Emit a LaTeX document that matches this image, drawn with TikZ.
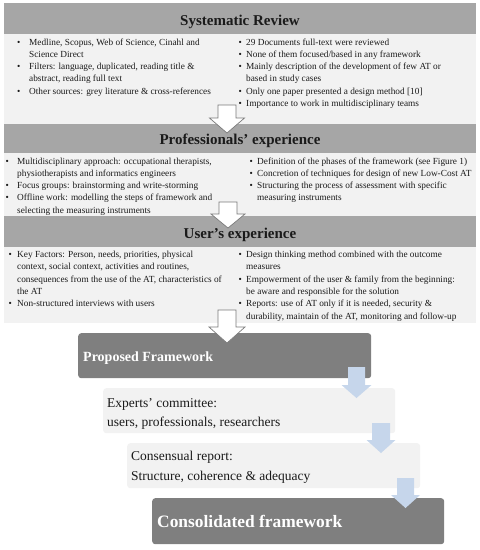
\documentclass[tikz,border=0pt]{standalone}
\usepackage{fontspec}
\setmainfont{Liberation Serif}
\definecolor{hdrgray}{HTML}{A6A6A6}
\definecolor{panegray}{HTML}{F2F2F2}
\definecolor{darkgray}{HTML}{7F7F7F}
\definecolor{flowblue}{HTML}{C6D6EB}
\definecolor{outlinegray}{HTML}{7A7A7A}
\definecolor{txt}{HTML}{1A1A1A}
\newcommand\bigdownarrow[7]{%
  \path[#7] (#1-#5,#2) -- (#1+#5,#2) -- (#1+#5,#3) -- (#1+#6,#3) -- (#1,#4)
    -- (#1-#6,#3) -- (#1-#5,#3) -- cycle;}
\begin{document}
\begin{tikzpicture}[x=1pt,y=-1pt,
  hdrbox/.style={fill=hdrgray, draw=none, inner sep=0, anchor=north west},
  panebox/.style={fill=panegray, draw=none, inner sep=0, anchor=north west},
  hdrtext/.style={font=\fontsize{15}{17}\selectfont\bfseries, text=txt, inner sep=0, anchor=base},
  bodytext/.style={font=\fontsize{9.3}{12.3}\selectfont, text=txt, inner sep=0, anchor=base west},
  darkbox/.style={fill=darkgray, draw=none, rounded corners=3pt, inner sep=0, anchor=north west},
  lightbox/.style={fill=panegray, draw=none, rounded corners=3pt, inner sep=0, anchor=north west},
  whitebold/.style={text=white, inner sep=0, anchor=base west},
  plaintext/.style={font=\fontsize{13.5}{16}\selectfont, text=txt, inner sep=0, anchor=base west},
  whitearrow/.style={fill=white, draw=outlinegray, line width=0.7pt, line join=miter},
  bluearrow/.style={fill=flowblue, draw=none}
]
\useasboundingbox (0,0) rectangle (480,550);

% ---------- Systematic Review ----------
\node[hdrbox, minimum width=472, minimum height=31] (syshdr) at (4,3) {};
\node[panebox, minimum width=472, minimum height=90] (sysbody) at (4,34) {};
\node[hdrtext] (systitle) at (240,25) {Systematic Review};
\node[bodytext] (sysL) at (17,45) {\begin{tabular}[t]{@{}p{12pt}@{}l@{}}
\textbullet & Medline, Scopus, Web of Science, Cinahl and\\
 & Science Direct\\
\textbullet & Filters: language, duplicated, reading title \&\\
 & abstract, reading full text\\
\textbullet & Other sources: grey literature \& cross-references
\end{tabular}};
\node[bodytext] (sysR) at (238.5,45) {\begin{tabular}[t]{@{}p{7.5pt}@{}l@{}}
\textbullet & 29 Documents full-text were reviewed\\
\textbullet & None of them focused/based in any framework\\
\textbullet & Mainly description of the development of few AT or\\
 & based in study cases\\
\textbullet & Only one paper presented a design method [10]\\
\textbullet & Importance to work in multidisciplinary teams
\end{tabular}};

% ---------- Professionals' experience ----------
\node[hdrbox, minimum width=472, minimum height=29] (prohdr) at (4,124) {};
\node[panebox, minimum width=472, minimum height=63] (probody) at (4,153) {};
\node[hdrtext] (protitle) at (240,144) {Professionals’ experience};
\node[bodytext] (proL) at (5.5,164) {\begin{tabular}[t]{@{}p{11.5pt}@{}l@{}}
\textbullet & Multidisciplinary approach: occupational therapists,\\
 & physiotherapists and informatics engineers\\
\textbullet & Focus groups: brainstorming and write-storming\\
\textbullet & Offline work: modelling the steps of framework and\\
 & selecting the measuring instruments
\end{tabular}};
\node[bodytext] (proR) at (249.5,164) {\begin{tabular}[t]{@{}p{7.5pt}@{}l@{}}
\textbullet & Definition of the phases of the framework (see Figure 1)\\
\textbullet & Concretion of techniques for design of new Low-Cost AT\\
\textbullet & Structuring the process of assessment with specific\\
 & measuring instruments
\end{tabular}};

% ---------- User's experience ----------
\node[hdrbox, minimum width=472, minimum height=31] (usrhdr) at (4,216) {};
\node[panebox, minimum width=472, minimum height=76] (usrbody) at (4,247) {};
\node[hdrtext] (usrtitle) at (240,238) {User’s experience};
\node[bodytext] (usrL) at (8.5,257.5) {\begin{tabular}[t]{@{}p{8.5pt}@{}l@{}}
\textbullet & Key Factors: Person, needs, priorities, physical\\
 & context, social context, activities and routines,\\
 & consequences from the use of the AT, characteristics of\\
 & the AT\\
\textbullet & Non-structured interviews with users
\end{tabular}};
\node[bodytext] (usrR) at (238.5,257.5) {\begin{tabular}[t]{@{}p{7.5pt}@{}l@{}}
\textbullet & Design thinking method combined with the outcome\\
 & measures\\
\textbullet & Empowerment of the user \& family from the beginning:\\
 & be aware and responsible for the solution\\
\textbullet & Reports: use of AT only if it is needed, security \&\\
 & durability, maintain of the AT, monitoring and follow-up
\end{tabular}};

% ---------- Lower flow ----------
\node[darkbox, minimum width=293, minimum height=45] (proposed) at (78,333) {};
\node[whitebold, font=\fontsize{14}{16}\selectfont\bfseries] (proposedtxt) at (83,361) {Proposed Framework};

\node[lightbox, minimum width=292, minimum height=45] (experts) at (103,388) {};
\node[plaintext] (expertsA) at (107,407) {Experts’ committee:};
\node[plaintext] (expertsB) at (107,426) {users, professionals, researchers};

\node[lightbox, minimum width=293, minimum height=45] (consensual) at (127,443) {};
\node[plaintext] (consA) at (131,460) {Consensual report:};
\node[plaintext] (consB) at (131,480) {Structure, coherence \& adequacy};

\node[darkbox, minimum width=292, minimum height=46] (consolidated) at (152,498) {};
\node[whitebold, font=\fontsize{17.4}{20}\selectfont\bfseries] (consolidatedtxt) at (157,527) {Consolidated framework};

% ---------- Arrows ----------
\bigdownarrow{227}{105}{118}{133}{9}{17.5}{whitearrow}
\bigdownarrow{228}{202}{214}{228}{9}{17}{whitearrow}
\bigdownarrow{227}{310}{327}{343}{9}{18}{whitearrow}
\bigdownarrow{356.5}{367}{385}{398}{8.5}{15}{bluearrow}
\bigdownarrow{381}{423}{440}{453}{9}{14.5}{bluearrow}
\bigdownarrow{405.5}{478}{495}{508}{8.5}{14.5}{bluearrow}
\end{tikzpicture}
\end{document}
